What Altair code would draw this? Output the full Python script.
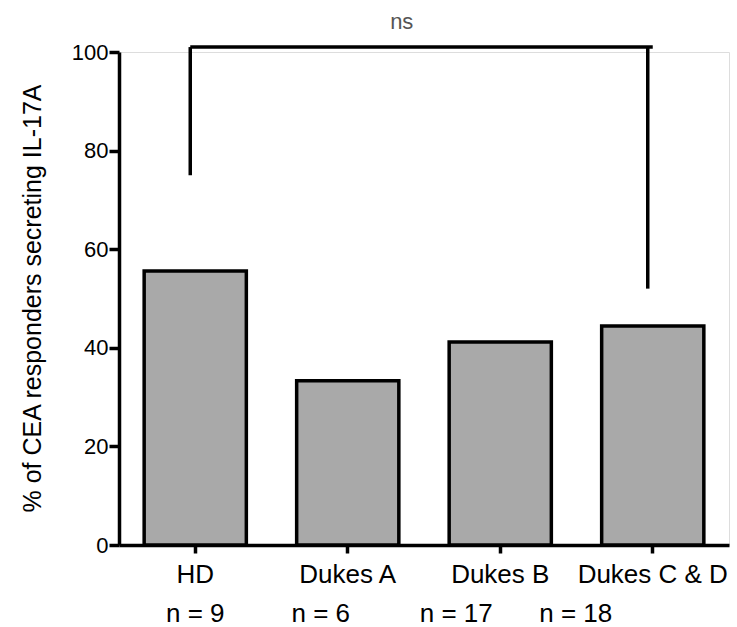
import altair as alt
import pandas as pd

# ---- data ----
categories = ["HD", "Dukes A", "Dukes B", "Dukes C & D"]
percent = [55.6, 33.3, 41.2, 44.4]
n_labels = ["n = 9", "n = 6", "n = 17", "n = 18"]
y_ticks = [0, 20, 40, 60, 80, 100]

bracket_from = "HD"
bracket_to = "Dukes C & D"
bracket_top = 101
bracket_left_bottom = 75
bracket_right_bottom = 52
bracket_label = "ns"

FONT = "Liberation Sans"

df = pd.DataFrame({"group": categories, "pct": percent, "n": n_labels})

x_scale = alt.Scale(domain=categories, paddingInner=0.33, paddingOuter=0.165)
y_scale = alt.Scale(domain=[0, 100])

bars = alt.Chart(df).mark_bar(
    fill="#a9a9a9", stroke="black", strokeWidth=3.5, strokeJoin="miter"
).encode(
    x=alt.X("group:N", scale=x_scale, sort=categories,
            axis=alt.Axis(title=None, labelAngle=0, labelFontSize=26, labelFont=FONT,
                          labelColor="black", labelPadding=8, tickSize=8, tickWidth=3.5,
                          tickColor="black", domainColor="black", domainWidth=3.5)),
    y=alt.Y("pct:Q", scale=y_scale,
            axis=alt.Axis(title="% of CEA responders secreting IL-17A", values=y_ticks,
                          grid=False, labelFontSize=22, labelFont=FONT, labelColor="black",
                          labelPadding=1, tickSize=10, tickWidth=3.5, tickColor="black",
                          domainColor="black", domainWidth=3.5,
                          titleFontSize=25, titleFont=FONT, titleFontWeight="normal",
                          titleColor="black", titleAngle=-90, titleX=-87, titleY=246,
                          titleAlign="center", titleBaseline="middle")),
)

# n labels under the category labels (individual horizontal shifts as in the original)
n_shifts = [0, -27, -44, -77]
n_layers = []
for cat, lab, shift in zip(categories, n_labels, n_shifts):
    n_layers.append(
        alt.Chart(pd.DataFrame({"group": [cat], "n": [lab]})).mark_text(
            fontSize=26, font=FONT, color="black", baseline="alphabetic", dx=shift
        ).encode(x=alt.X("group:N", scale=x_scale, sort=categories), y=alt.value(570), text="n:N")
    )

# significance bracket
br_h = alt.Chart(pd.DataFrame({"a": [bracket_from], "b": [bracket_to], "y": [bracket_top]})).mark_rule(
    color="black", strokeWidth=3.5, xOffset=-5
).encode(x=alt.X("a:N", scale=x_scale, sort=categories), x2="b:N", y=alt.Y("y:Q", scale=y_scale))

br_v = alt.Chart(pd.DataFrame({
    "g": [bracket_from, bracket_to],
    "top": [bracket_top, bracket_top],
    "bottom": [bracket_left_bottom, bracket_right_bottom],
})).mark_rule(color="black", strokeWidth=3.5, xOffset=-5).encode(
    x=alt.X("g:N", scale=x_scale, sort=categories),
    y=alt.Y("top:Q", scale=y_scale), y2="bottom:Q")

ns_text = alt.Chart(pd.DataFrame({"t": [bracket_label]})).mark_text(
    fontSize=22, font=FONT, color="#555555", baseline="middle", dx=54
).encode(x=alt.datum("Dukes A", scale=x_scale), y=alt.value(-30), text="t:N")

chart = alt.layer(bars, br_h, br_v, ns_text, *n_layers).properties(
    width=610, height=493,
    autosize=alt.AutoSizeParams(type="none"),
    padding={"left": 119, "top": 52, "right": 8, "bottom": 82},
).configure_view(stroke=None).configure(background="white")

chart.save("out.html", embed_options={"renderer": "svg", "actions": False})
